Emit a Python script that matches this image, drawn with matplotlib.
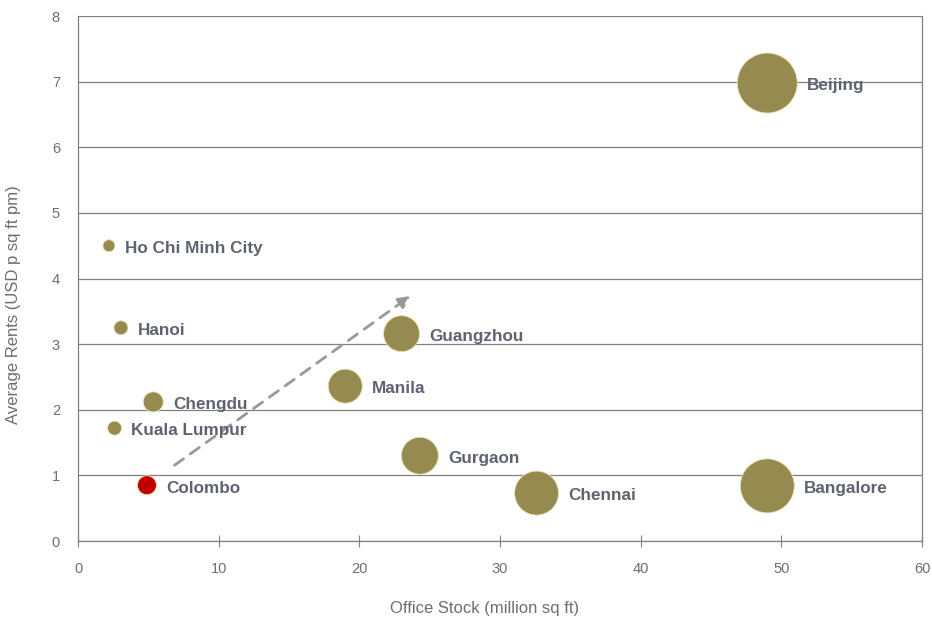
import matplotlib.pyplot as plt
from matplotlib import font_manager

# office market snapshot: stock vs rent, bubble size ~ market size
cities = ['Beijing', 'Ho Chi Minh City', 'Hanoi', 'Chengdu', 'Kuala Lumpur', 'Colombo',
          'Guangzhou', 'Manila', 'Gurgaon', 'Chennai', 'Bangalore']
office_stock = [49.0, 2.2, 3.05, 5.35, 2.6, 4.9, 23.0, 19.0, 24.3, 32.6, 49.0]
avg_rent = [6.98, 4.5, 3.25, 2.12, 1.72, 0.85, 3.16, 2.36, 1.30, 0.73, 0.84]
bubble_px = [60, 12, 14, 20, 14, 19, 36, 34, 37, 44, 54]
colours = ['#958a4f'] * 5 + ['#c00000'] + ['#958a4f'] * 5

label_col = '#5e6370'
tick_col = '#6e6e6e'
installed = {f.name for f in font_manager.fontManager.ttflist}
narrow = [n for n in ['Liberation Sans Narrow', 'DejaVu Sans Condensed'] if n in installed]
narrow += ['Liberation Sans', 'DejaVu Sans']

fig = plt.figure(figsize=(9.32, 6.19), dpi=100)
ax = fig.add_axes([0.0837, 0.126, 0.9056, 0.848])

ax.set_xlim(0, 60)
ax.set_ylim(0, 8)
ax.set_xticks(range(0, 61, 10))
ax.set_yticks(range(0, 9))
ax.grid(axis='y', color='#808080', linewidth=0.9)
ax.set_axisbelow(True)
for side in ['left', 'right', 'bottom']:
    ax.spines[side].set_color('#808080')
    ax.spines[side].set_linewidth(0.9)
ax.spines['top'].set_visible(False)
ax.tick_params(axis='x', direction='inout', length=8, color='#808080', pad=11,
               labelsize=10.5, labelcolor=tick_col)
ax.tick_params(axis='y', length=0, pad=13, labelsize=10.5, labelcolor=tick_col)
for lbl in ax.get_xticklabels() + ax.get_yticklabels():
    lbl.set_family(narrow)

sizes = [(d * 0.72) ** 2 for d in bubble_px]
ax.scatter(office_stock, avg_rent, s=sizes, c=colours, edgecolors='#eee3b0',
           linewidths=0.6, zorder=3)

for name, x, y, d in zip(cities, office_stock, avg_rent, bubble_px):
    ax.annotate(name, (x, y), xytext=(d * 0.36 + 7, -2), textcoords='offset points',
                ha='left', va='center', fontsize=12.3, fontweight='bold',
                color=label_col, family=narrow, zorder=4)

# trend arrow
ax.annotate('', xy=(23.8, 3.76), xytext=(6.7, 1.13),
            arrowprops=dict(arrowstyle='-|>', color='#999999', lw=2,
                            linestyle=(0, (4, 3)), mutation_scale=18), zorder=2)

ax.set_xlabel('Office Stock (million sq ft)', fontsize=12, color=tick_col, family=narrow)
ax.xaxis.set_label_coords(0.482, -0.115)
ax.set_ylabel('Average Rents (USD p sq ft pm)', fontsize=12, color=tick_col, family=narrow)
ax.yaxis.set_label_coords(-0.068, 0.45)

fig.savefig('out.png', dpi=100)
